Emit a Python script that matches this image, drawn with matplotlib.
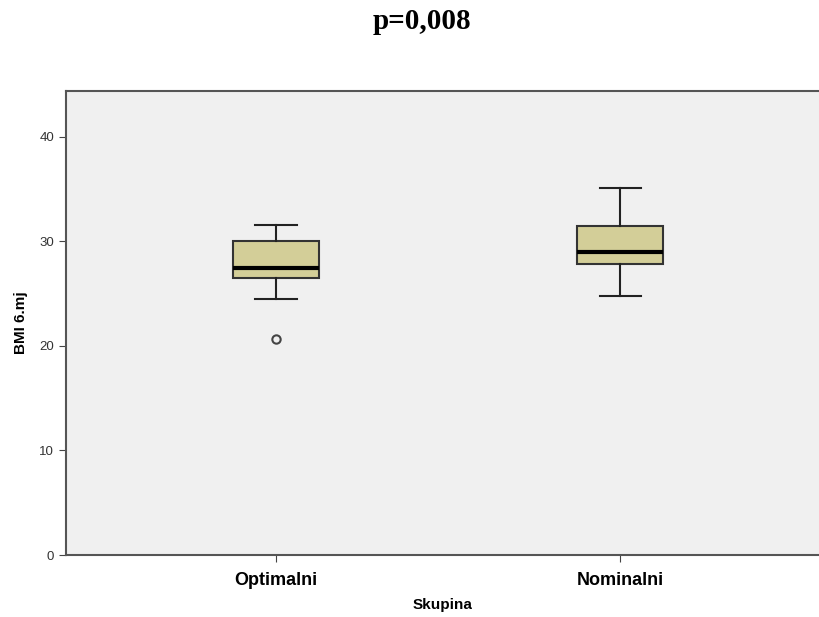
import matplotlib
matplotlib.use("Agg")
import matplotlib.pyplot as plt

# values
groups = ["Optimalni", "Nominalni"]
whisker_low = [24.5, 24.8]
q1 = [26.5, 27.8]
medians = [27.5, 29.0]
q3 = [30.0, 31.5]
whisker_high = [31.6, 35.1]
outliers = [[20.7], []]

stats = []
for i in range(len(groups)):
    stats.append({"label": groups[i], "whislo": whisker_low[i], "q1": q1[i],
                  "med": medians[i], "q3": q3[i], "whishi": whisker_high[i],
                  "fliers": outliers[i]})

fig = plt.figure(figsize=(8.2, 6.17), dpi=100)
ax = fig.add_axes([66 / 820, 62 / 617, 1 - 66 / 820, (555 - 91) / 617])
ax.set_facecolor("#F0F0F0")

ax.bxp(stats, positions=[1, 2], widths=0.25, patch_artist=True,
       boxprops=dict(facecolor="#D3CE98", edgecolor="#333333", linewidth=1.5),
       medianprops=dict(color="black", linewidth=3),
       whiskerprops=dict(color="#222222", linewidth=1.5),
       capprops=dict(color="#222222", linewidth=1.5),
       capwidths=0.12,
       flierprops=dict(marker="o", markerfacecolor="none", markeredgecolor="#444444",
                       markersize=6, markeredgewidth=1.5))

ax.set_xlim(0.39, 2.58)
ax.set_ylim(0, 44.4)
ax.set_yticks([0, 10, 20, 30, 40])
ax.tick_params(axis="y", labelsize=9.5, labelcolor="#333333", length=5, color="#444444")
ax.tick_params(axis="x", length=5, color="#444444", pad=7)
ax.set_xticks([1, 2])
ax.set_xticklabels(groups, fontsize=13, fontweight="bold", family="Liberation Sans")
for lab in ax.get_yticklabels():
    lab.set_family("Liberation Sans")

for s in ["top", "left", "bottom"]:
    ax.spines[s].set_color("#555555")
    ax.spines[s].set_linewidth(1.5)
ax.spines["right"].set_visible(False)

ax.set_ylabel("BMI 6.mj", fontsize=11, fontweight="bold", family="Liberation Sans", labelpad=8)
ax.set_xlabel("Skupina", fontsize=11, fontweight="bold", family="Liberation Sans", labelpad=7)

fig.text(0.515, 0.965, "p=0,008", ha="center", va="center", fontsize=21,
         fontweight="bold", family="Liberation Serif")

fig.savefig("out.png", dpi=100)
